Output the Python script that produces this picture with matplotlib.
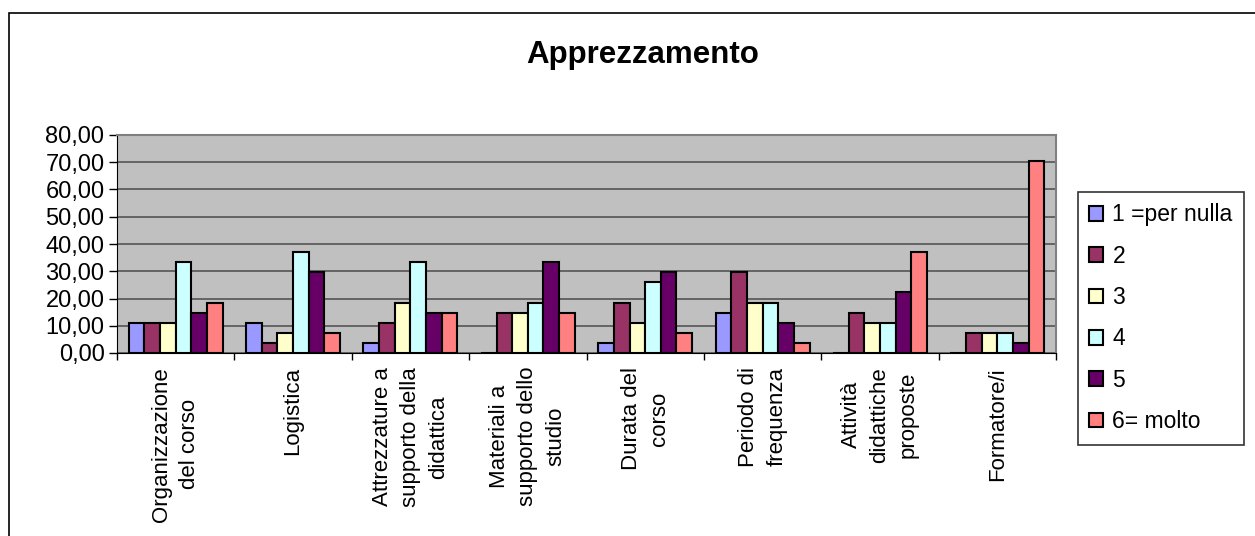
import numpy as np
import matplotlib
matplotlib.use('Agg')
from matplotlib import pyplot as plt
from matplotlib.patches import Rectangle
from matplotlib.ticker import FuncFormatter

plt.rcParams['font.family'] = ['Liberation Sans', 'DejaVu Sans']

categorie = ['Organizzazione\ndel corso', 'Logistica', 'Attrezzature a\nsupporto della\ndidattica',
             'Materiali a\nsupporto dello\nstudio', 'Durata del\ncorso', 'Periodo di\nfrequenza',
             'Attività\ndidattiche\nproposte', 'Formatore/i']
serie = ['1 =per nulla', '2', '3', '4', '5', '6= molto']

v1 = [11.11, 11.11, 3.70, 0.00, 3.70, 14.81, 0.00, 0.00]
v2 = [11.11, 3.70, 11.11, 14.81, 18.52, 29.63, 14.81, 7.41]
v3 = [11.11, 7.41, 18.52, 14.81, 11.11, 18.52, 11.11, 7.41]
v4 = [33.33, 37.04, 33.33, 18.52, 25.93, 18.52, 11.11, 7.41]
v5 = [14.81, 29.63, 14.81, 33.33, 29.63, 11.11, 22.22, 3.70]
v6 = [18.52, 7.41, 14.81, 14.81, 7.41, 3.70, 37.04, 70.37]
valori = [v1, v2, v3, v4, v5, v6]

colori = ['#9999FF', '#993366', '#FFFFCC', '#CCFFFF', '#660066', '#FF8080']

W, H = 1255, 536
fig = plt.figure(figsize=(W / 100, H / 100), dpi=100)

# area del grafico (in pixel)
x0, x1, y0, y1 = 117, 1056, 135, 353
ax = fig.add_axes([x0 / W, 1 - y1 / H, (x1 - x0) / W, (y1 - y0) / H])
ax.set_facecolor('#C0C0C0')

# cornice esterna
fig.patches.append(Rectangle((9 / W, -0.01), 1.1, 1 - 13 / H + 0.01, transform=fig.transFigure,
                             fill=False, edgecolor='black', lw=1.2, zorder=0))

x = np.arange(len(categorie))
w = 0.8 / 6
for j in range(6):
    ax.bar(x + (j - 2.5) * w, valori[j], width=w, color=colori[j], edgecolor='black',
           linewidth=1.5, label=serie[j], zorder=3)

ax.set_xlim(-0.5, 7.5)
ax.set_ylim(0, 80)
ax.set_yticks(np.arange(0, 81, 10))
ax.yaxis.set_major_formatter(FuncFormatter(lambda v, p: f'{v:.2f}'.replace('.', ',')))
ax.grid(axis='y', color='#555555', lw=1.2, zorder=1)

ax.set_xticks(np.arange(-0.5, 8, 1))
ax.set_xticklabels([])
ax.set_xticks(x, minor=True)
ax.set_xticklabels(categorie, minor=True, rotation=90, va='top', ha='center',
                   multialignment='center', fontsize=16, linespacing=1.45)
ax.tick_params(axis='x', which='minor', length=0, pad=10)
ax.tick_params(axis='x', which='major', length=5, direction='out', width=1)
ax.tick_params(axis='y', length=6, direction='out', width=1, labelsize=17, pad=3)

for s in ['top', 'right']:
    ax.spines[s].set_color('#808080')
    ax.spines[s].set_linewidth(1.5)
ax.spines['left'].set_color('black')
ax.spines['bottom'].set_color('black')

fig.text(643 / W, 1 - 55 / H, 'Apprezzamento', ha='center', va='center',
         fontsize=22.5, fontweight='bold')

leg = fig.legend(loc='upper left', bbox_to_anchor=(1078 / W, 1 - 192 / H), fontsize=16.5,
                 frameon=True, fancybox=False, edgecolor='black', handlelength=0.6,
                 handleheight=0.6, handletextpad=0.4, labelspacing=0.8, borderpad=0.5,
                 borderaxespad=0)
leg.get_frame().set_linewidth(1.2)
for h in leg.legend_handles:
    h.set_linewidth(1.5)

fig.savefig('out.png', dpi=100)
